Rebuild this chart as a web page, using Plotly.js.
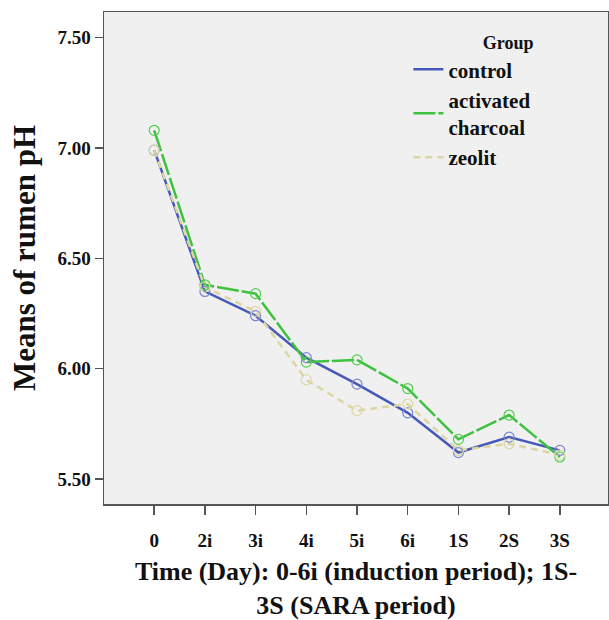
<!DOCTYPE html>
<html>
<head>
<meta charset="utf-8">
<script src="https://cdn.plot.ly/plotly-3.0.1.min.js"></script>
<style>html,body{margin:0;padding:0;background:#fff;}#chart{width:609px;height:620px;}</style>
</head>
<body>
<div id="chart"></div>
<script>
const days = ["0", "2i", "3i", "4i", "5i", "6i", "1S", "2S", "3S"];
const control = [6.99, 6.35, 6.24, 6.05, 5.93, 5.80, 5.62, 5.69, 5.63];
const charcoal = [7.08, 6.38, 6.34, 6.03, 6.04, 5.91, 5.68, 5.79, 5.60];
const zeolit = [6.99, 6.37, 6.26, 5.95, 5.81, 5.84, 5.63, 5.66, 5.61];
const groupNames = ["control", "activated<br>charcoal", "zeolit"];
const yTicks = [5.5, 6.0, 6.5, 7.0, 7.5];

const serif = "'Liberation Serif', 'Times New Roman', Times, serif";

const series = [control, charcoal, zeolit];
const lineColors = ["#4759b8", "#3ec23e", "#dcd6a2"];
const markerColors = ["#7a86cc", "#4fcf4f", "#ddd7a6"];
const dashes = ["solid", "22px,3px", "7px,5px"];

const traces = [];
series.forEach((vals, i) => {
  traces.push({x: days, y: vals, name: groupNames[i], type: "scatter", mode: "lines",
    legendgroup: "g" + i, line: {color: lineColors[i], width: 2.5, dash: dashes[i]}});
});
series.forEach((vals, i) => {
  traces.push({x: days, y: vals, name: groupNames[i], type: "scatter", mode: "markers",
    legendgroup: "g" + i, showlegend: false,
    marker: {symbol: "circle-open", size: 10, color: markerColors[i], line: {width: 1.2}}});
});

const layout = {
  width: 609, height: 620,
  margin: {l: 104, r: 1, t: 12, b: 116},
  paper_bgcolor: "#ffffff",
  plot_bgcolor: "#f0f0f0",
  font: {family: serif, color: "#111", size: 19},
  showlegend: true,
  legend: {
    x: 0.604, xanchor: "left", y: 0.972, yanchor: "top",
    bgcolor: "rgba(0,0,0,0)",
    font: {family: serif, size: 21, color: "#111", weight: "bold"},
    title: {text: "<b>Group</b>", side: "top right", font: {family: serif, size: 18, color: "#111"}},
    tracegroupgap: 0
  },
  xaxis: {
    type: "category",
    range: [-0.99, 8.95],
    showgrid: false, zeroline: false,
    showline: true, linecolor: "#555", linewidth: 1.5, mirror: true,
    ticks: "outside", ticklen: 9, tickwidth: 1.5, tickcolor: "#555",
    ticklabelstandoff: 10,
    tickfont: {family: serif, size: 19, color: "#111", weight: "bold"},
    title: {text: "<b>Time (Day): 0-6i (induction period); 1S-<br>3S (SARA period)</b>",
            font: {family: serif, size: 26, color: "#111"}, standoff: 19}
  },
  yaxis: {
    range: [5.387, 7.616],
    tickvals: yTicks, tickformat: ".2f",
    showgrid: false, zeroline: false,
    showline: true, linecolor: "#555", linewidth: 1.5, mirror: true,
    ticks: "outside", ticklen: 8, tickwidth: 1.5, tickcolor: "#555",
    tickfont: {family: serif, size: 19, color: "#111", weight: "bold"},
    title: {text: "<b>Means of rumen pH</b>", font: {family: serif, size: 31, color: "#111"}, standoff: 12}
  }
};

Plotly.newPlot("chart", traces, layout, {displayModeBar: false, staticPlot: true});
</script>
</body>
</html>
